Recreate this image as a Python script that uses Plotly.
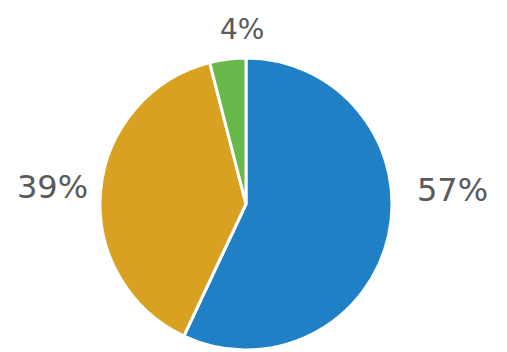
import plotly.graph_objects as go

labels = ["A", "B", "C"]
values = [57, 39, 4]
label_texts = ["57%", "39%", "4%"]
colors = ["#1f80c6", "#d8a121", "#69b84c"]

# page body has an 8px margin; place things relative to that
OFF = 8
W, H = 507, 352

fig = go.Figure(go.Pie(
    labels=labels,
    values=values,
    sort=False,
    direction="clockwise",
    rotation=0,
    textinfo="none",
    hoverinfo="label+percent",
    marker=dict(colors=colors, line=dict(color="white", width=3)),
    domain=dict(x=[(100 - OFF)/W, (392 - OFF)/W], y=[1 - (350 - OFF)/H, 1 - (58 - OFF)/H]),
    showlegend=False,
))

pos = [(452, 190), (52, 187), (242, 29)]
sizes = [32, 32, 28]
for t, (x, y), s in zip(label_texts, pos, sizes):
    fig.add_annotation(
        x=(x - OFF)/W, y=1 - (y - OFF)/H, xref="paper", yref="paper",
        xanchor="center", yanchor="middle",
        text=t, showarrow=False,
        font=dict(family="DejaVu Sans", size=s, color="#5a5a5a"),
    )

fig.update_layout(
    width=W, height=H,
    margin=dict(l=0, r=0, t=0, b=0),
    paper_bgcolor="white", plot_bgcolor="white",
)
fig.write_html("out.html")
